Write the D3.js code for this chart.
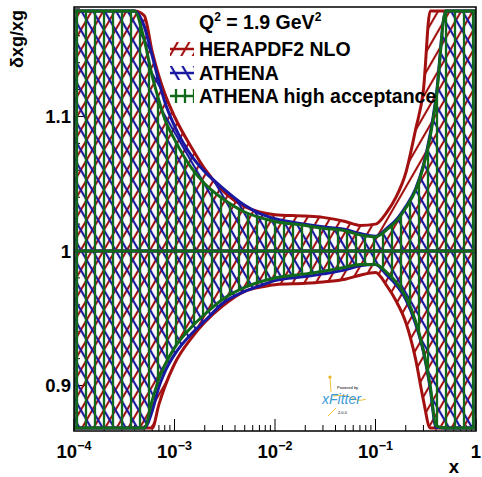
<!doctype html>
<html lang="en">
<head>
<meta charset="utf-8">
<title>delta xg / xg at Q2 = 1.9 GeV2</title>
<script src="https://d3js.org/d3.v7.min.js"></script>
<style>
body { margin: 0; background: #fff; }
svg { display: block; }
text { font-family: 'Liberation Sans', Arial, sans-serif; font-weight: bold; fill: #000; }
</style>
</head>
<body>
<svg id="chart" width="482" height="477"></svg>
<script>
// x grid shared by all bands
const xPoints = [1e-4, 2e-4, 3e-4, 4e-4, 5e-4, 6e-4, 7e-4, 8e-4, 1e-3, 1.5e-3, 2e-3, 3e-3, 5e-3, 7e-3,
  1e-2, 2e-2, 3e-2, 5e-2, 7e-2, 0.1, 0.13, 0.16, 0.2, 0.25, 0.3, 0.35, 0.4, 0.5, 0.7, 1];

// HERAPDF2 NLO
const heraUp = [1.45, 1.40, 1.32, 1.22, 1.175, 1.148, 1.130, 1.117, 1.100, 1.076, 1.061, 1.045, 1.033, 1.029,
  1.027, 1.026, 1.025, 1.022, 1.019, 1.020, 1.029, 1.040, 1.058, 1.090, 1.120, 1.22, 1.30, 1.40, 1.45, 1.5];
const heraLo = [0.55, 0.60, 0.68, 0.76, 0.83, 0.866, 0.886, 0.899, 0.916, 0.936, 0.947, 0.959, 0.970, 0.973,
  0.975, 0.976, 0.977, 0.979, 0.982, 0.984, 0.974, 0.963, 0.947, 0.920, 0.889, 0.80, 0.75, 0.70, 0.60, 0.55];

// ATHENA
const athenaUp = [1.40, 1.35, 1.28, 1.20, 1.167, 1.145, 1.126, 1.111, 1.093, 1.070, 1.059, 1.047, 1.034, 1.028,
  1.024, 1.020, 1.018, 1.016, 1.013, 1.011, 1.017, 1.023, 1.033, 1.046, 1.064, 1.087, 1.114, 1.22, 1.35, 1.45];
const athenaLo = [0.60, 0.65, 0.75, 0.82, 0.858, 0.881, 0.899, 0.910, 0.923, 0.939, 0.948, 0.961, 0.970, 0.974,
  0.978, 0.981, 0.983, 0.986, 0.989, 0.990, 0.982, 0.975, 0.964, 0.946, 0.925, 0.898, 0.869, 0.80, 0.70, 0.60];

// ATHENA high acceptance
const athenaHiUp = [1.40, 1.35, 1.28, 1.19, 1.157, 1.130, 1.112, 1.098, 1.083, 1.061, 1.050, 1.039, 1.029, 1.025,
  1.022, 1.019, 1.017, 1.015, 1.012, 1.0105, 1.016, 1.022, 1.032, 1.045, 1.063, 1.085, 1.112, 1.22, 1.35, 1.45];
const athenaHiLo = [0.60, 0.65, 0.76, 0.83, 0.864, 0.889, 0.905, 0.915, 0.928, 0.944, 0.953, 0.964, 0.973, 0.977,
  0.980, 0.983, 0.985, 0.988, 0.990, 0.990, 0.984, 0.977, 0.966, 0.948, 0.926, 0.900, 0.870, 0.80, 0.70, 0.60];

const seriesNames = ['HERAPDF2 NLO', 'ATHENA', 'ATHENA high acceptance'];
const seriesColors = ['#a31010', '#1818a0', '#11691a'];
const yMajorTicks = [0.9, 1, 1.1];
const yTickLabels = ['0.9', '1', '1.1'];
const xMajorTicks = [1e-4, 1e-3, 1e-2, 1e-1, 1];
const xTickExponents = ['\u22124', '\u22123', '\u22122', '\u22121', null];

const svg = d3.select('#chart');
const pLeft = 74, pRight = 476, pTop = 7, pBottom = 431;

const x = d3.scaleLog().domain([1e-4, 1]).range([pLeft, pRight]);
const y = d3.scaleLinear().domain([0.8662, 1.1814]).range([pBottom, pTop]);

// bands are cut a little inside the frame, as ROOT does
const capHi = y.invert(11), capLo = y.invert(428);
const clamp = v => Math.max(capLo, Math.min(capHi, v));

const defs = svg.append('defs');
defs.append('clipPath').attr('id', 'frameClip')
  .append('rect').attr('x', pLeft).attr('y', pTop).attr('width', pRight - pLeft).attr('height', pBottom - pTop);

// hatch patterns: red "/", blue "\", green "|"
function hatch(id, color, angle, w, sw, off) {
  const p = defs.append('pattern').attr('id', id)
    .attr('patternUnits', 'userSpaceOnUse')
    .attr('width', w).attr('height', 10)
    .attr('patternTransform', `rotate(${angle})`);
  p.append('line').attr('x1', off).attr('x2', off).attr('y1', -1).attr('y2', 11)
    .attr('stroke', color).attr('stroke-width', sw);
}
hatch('h0', seriesColors[0], 30, 10, 2.1, 5);
hatch('h1', seriesColors[1], -30, 10, 2.2, 5);
hatch('h2', seriesColors[2], 0, 9, 2.3, 5);

// axis ticks (drawn under the bands, pointing inwards)
const ticks = svg.append('g').attr('stroke', '#000').attr('stroke-width', 1);
const xMinor = [];
for (let e = -4; e < 0; e++) for (let m = 2; m <= 9; m++) xMinor.push(m * Math.pow(10, e));
ticks.selectAll('.xmin').data(xMinor).join('line')
  .attr('x1', d => x(d)).attr('x2', d => x(d)).attr('y1', pBottom).attr('y2', pBottom - 6);
ticks.selectAll('.xmaj').data(xMajorTicks).join('line')
  .attr('x1', d => x(d)).attr('x2', d => x(d)).attr('y1', pBottom).attr('y2', pBottom - 12);
const yMinor = d3.range(0.88, 1.181, 0.02);
ticks.selectAll('.ymin').data(yMinor).join('line')
  .attr('x1', pLeft).attr('x2', pLeft + 6).attr('y1', d => y(d)).attr('y2', d => y(d));
ticks.selectAll('.ymaj').data(yMajorTicks).join('line')
  .attr('x1', pLeft).attr('x2', pLeft + 12).attr('y1', d => y(d)).attr('y2', d => y(d));

// bands
const bands = [[heraUp, heraLo], [athenaUp, athenaLo], [athenaHiUp, athenaHiLo]];
const area = d3.area()
  .x(d => x(d.x)).y0(d => y(clamp(d.lo))).y1(d => y(clamp(d.up)))
  .curve(d3.curveMonotoneX);

const plot = svg.append('g').attr('clip-path', 'url(#frameClip)');
bands.forEach(([up, lo], i) => {
  const pts = xPoints.map((xv, k) => ({ x: xv, up: up[k], lo: lo[k] }));
  plot.append('path').datum(pts)
    .attr('d', area)
    .attr('fill', `url(#h${i})`)
    .attr('stroke', seriesColors[i])
    .attr('stroke-width', 3)
    .attr('stroke-linejoin', 'round');
});
bands.forEach((b, i) => {
  plot.append('line')
    .attr('x1', x(1e-4)).attr('x2', x(1)).attr('y1', y(1)).attr('y2', y(1))
    .attr('stroke', seriesColors[i]).attr('stroke-width', 3);
});

// frame
svg.append('rect').attr('x', pLeft).attr('y', pTop).attr('width', pRight - pLeft).attr('height', pBottom - pTop)
  .attr('fill', 'none').attr('stroke', '#000').attr('stroke-width', 1.5);

// tick labels
svg.selectAll('.ylab').data(yMajorTicks).join('text')
  .attr('x', 71).attr('y', d => y(d)).attr('dy', '0.36em')
  .attr('text-anchor', 'end').style('font-size', '18.5px')
  .text((d, i) => yTickLabels[i]);

xMajorTicks.forEach((d, i) => {
  const t = svg.append('text').attr('x', x(d)).attr('y', 458)
    .attr('text-anchor', 'middle').style('font-size', '18.5px');
  if (xTickExponents[i]) {
    t.append('tspan').text('10');
    t.append('tspan').attr('dy', -8).style('font-size', '12.5px').text(xTickExponents[i]);
  } else {
    t.text('1');
  }
});

// axis titles
svg.append('text').attr('transform', 'translate(23,10) rotate(-90)')
  .attr('text-anchor', 'end').style('font-size', '18px').text('\u03b4xg/xg');
svg.append('text').attr('x', 459).attr('y', 473)
  .attr('text-anchor', 'end').style('font-size', '18.5px').text('x');

// legend
const q = svg.append('text').attr('x', 199).attr('y', 29).style('font-size', '19.5px');
q.append('tspan').text('Q');
q.append('tspan').attr('dy', -8).style('font-size', '12px').text('2');
q.append('tspan').attr('dy', 8).text(' = 1.9 GeV');
q.append('tspan').attr('dy', -8).style('font-size', '12px').text('2');

const legendY = [49, 73, 96];
seriesNames.forEach((name, i) => {
  const cy = legendY[i];
  svg.append('rect').attr('x', 170).attr('y', cy - 7).attr('width', 24).attr('height', 14)
    .attr('fill', `url(#h${i})`);
  svg.append('line').attr('x1', 170).attr('x2', 194).attr('y1', cy).attr('y2', cy)
    .attr('stroke', seriesColors[i]).attr('stroke-width', 2.5);
  svg.append('text').attr('x', 199).attr('y', cy + 7).style('font-size', '19.5px').text(name);
});

// xFitter logo
const logo = svg.append('g');
logo.append('path').attr('d', 'M330,378 L331,392 M333,396 Q345,394 352,398 T366,399 M336,408 L328,416')
  .attr('fill', 'none').attr('stroke', '#e9c43c').attr('stroke-width', 1);
logo.append('circle').attr('cx', 330).attr('cy', 377).attr('r', 1.6).attr('fill', '#e9b020');
logo.append('text').attr('x', 337).attr('y', 389).style('font-size', '4px').style('font-weight', 'normal')
  .text('Powered by');
logo.append('text').attr('x', 322).attr('y', 404).style('font-size', '14px').style('font-weight', 'normal')
  .style('font-style', 'italic').style('fill', '#3d9ad8').text('xFitter');
logo.append('text').attr('x', 338).attr('y', 414).style('font-size', '4px').style('font-weight', 'normal')
  .text('2.0.0');
</script>
</body>
</html>
